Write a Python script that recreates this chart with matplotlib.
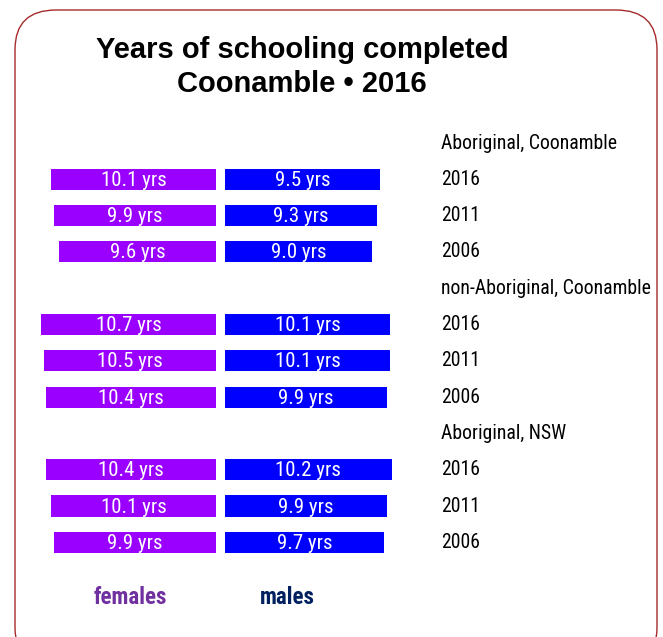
import matplotlib
matplotlib.use("Agg")
import matplotlib.pyplot as plt
from matplotlib.patches import FancyBboxPatch

# data
groups = ["Aboriginal, Coonamble", "non-Aboriginal, Coonamble", "Aboriginal, NSW"]
years = ["2016", "2011", "2006"]
females = [[10.1, 9.9, 9.6], [10.7, 10.5, 10.4], [10.4, 10.1, 9.9]]
males = [[9.5, 9.3, 9.0], [10.1, 10.1, 9.9], [10.2, 9.9, 9.7]]

FEMALE_COL = "#9900ff"
MALE_COL = "#0000ff"
NARROW = ["Liberation Sans Narrow", "Roboto Condensed", "Arial Narrow",
          "Liberation Sans", "DejaVu Sans"]

W, H = 663, 637
fig = plt.figure(figsize=(W / 100, H / 100), dpi=100)
fig.patch.set_facecolor("white")

# rounded border, bottom runs off the picture
border = FancyBboxPatch((15 / W, -30 / H), (657 - 15) / W, (627 + 30) / H,
                        boxstyle="round,pad=0,rounding_size=0.062",
                        transform=fig.transFigure, facecolor="none",
                        edgecolor="#a52a2a", linewidth=1.0, clip_on=False)
fig.patches.append(border)

ax = fig.add_axes([0, 0, 1, 1])
ax.set_axis_off()

px_per_yr = 16.35
x0 = 220.5
ax.set_xlim(-x0 / px_per_yr, (W - x0) / px_per_yr)
slot = 36.3
y0 = 143
ax.set_ylim((H - y0) / slot, -y0 / slot)

gap = 4.5 / px_per_yr
bar_h = 0.58
label_x = (441 - x0) / px_per_yr

row = 0
for g, grp in enumerate(groups):
    ax.text(label_x, row, grp, fontsize=14.2, family=NARROW, ha="left", va="center")
    row += 1
    for i, yr in enumerate(years):
        f = females[g][i]
        m = males[g][i]
        ax.barh(row, -f, left=-gap, height=bar_h, color=FEMALE_COL)
        ax.barh(row, m, left=gap, height=bar_h, color=MALE_COL)
        ax.text(-gap - f / 2, row + 0.03, f"{f:.1f} yrs", color="white", fontsize=15,
                family=NARROW, ha="center", va="center")
        ax.text(gap + m / 2, row + 0.03, f"{m:.1f} yrs", color="white", fontsize=15,
                family=NARROW, ha="center", va="center")
        ax.text(label_x, row, yr, fontsize=14.2, family=NARROW, ha="left", va="center")
        row += 1

fig.text(302 / W, 1 - 67 / H, "Years of schooling completed\nCoonamble \u2022 2016",
         fontsize=21, fontweight="bold", family=["Liberation Sans", "DejaVu Sans"],
         ha="center", va="center", linespacing=1.3)

fig.text(130 / W, 1 - 597 / H, "females", color="#7030a0", fontsize=16.5,
         fontweight="bold", family=NARROW, ha="center", va="center")
fig.text(287 / W, 1 - 597 / H, "males", color="#002060", fontsize=16.5,
         fontweight="bold", family=NARROW, ha="center", va="center")

fig.savefig("out.png", dpi=100)
